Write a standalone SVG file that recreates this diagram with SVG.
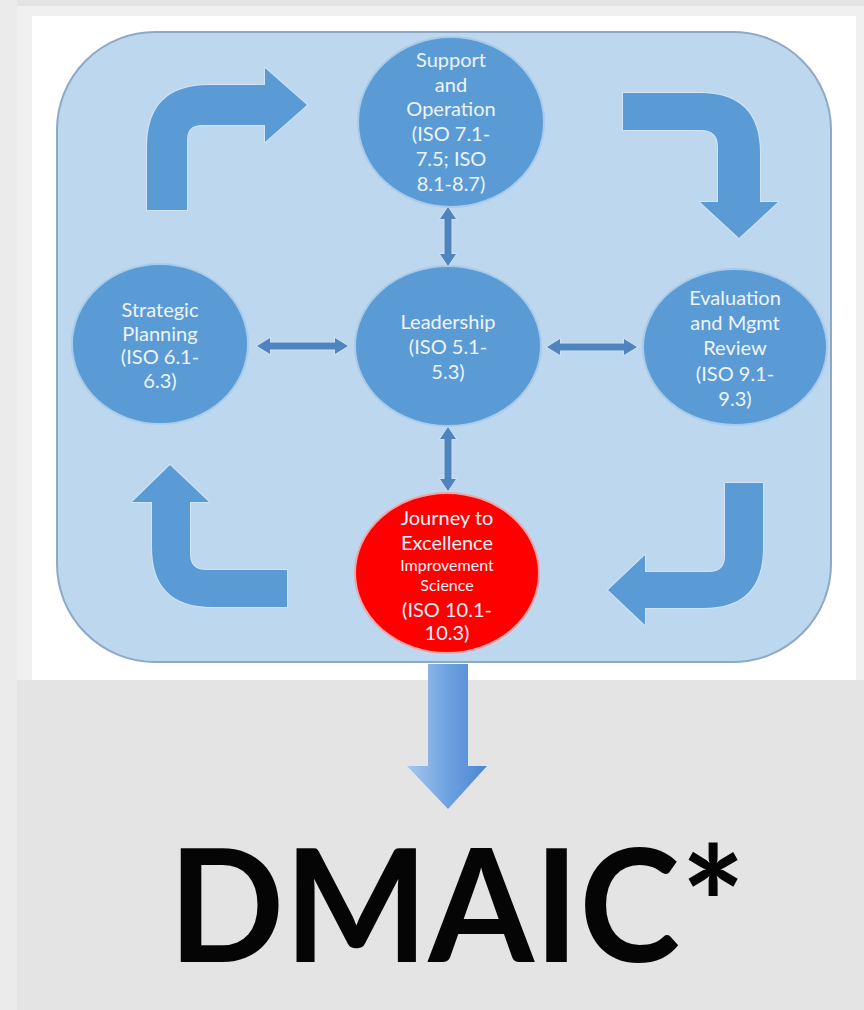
<svg xmlns="http://www.w3.org/2000/svg" width="864" height="1010" viewBox="0 0 864 1010">
  <defs>
    <style>
      .node { fill: #5b9bd5; stroke: #a8cbea; stroke-width: 2; }
      .node-red { fill: #ff0000; stroke: #f3a3a8; stroke-width: 2; }
      .label { font-family: Lato, "Open Sans", sans-serif; font-size: 20px; fill: #eef4fb; text-anchor: middle; }
      .label-sm { font-size: 16px; }
      .cycle { fill: #5b9bd5; stroke: #d2e5f6; stroke-width: 2; paint-order: stroke; stroke-linejoin: round; }
      .link { fill: #4f84be; stroke: #d2e5f6; stroke-width: 1.5; paint-order: stroke; }
      .title { font-family: Lato, "Open Sans", sans-serif; font-weight: 700; font-size: 158px; fill: #050505; text-anchor: middle; }
    </style>
    <linearGradient id="downGrad" x1="0" y1="0" x2="1" y2="0">
      <stop offset="0" stop-color="#a6c8ee"/>
      <stop offset="0.5" stop-color="#6ea2e0"/>
      <stop offset="1" stop-color="#4b86d1"/>
    </linearGradient>
  </defs>

  <!-- page backgrounds -->
  <rect x="0" y="0" width="864" height="1010" fill="#e4e4e4"/>
  <rect x="0" y="0" width="17" height="1010" fill="#ebebeb"/>
  <rect x="17" y="6" width="847" height="674" fill="#f0f0f0"/>
  <rect x="32" y="16" width="824" height="664" fill="#ffffff"/>

  <!-- framework container -->
  <rect id="frame" x="57" y="32" width="774" height="630" rx="98" ry="98" fill="#bdd7ee" stroke="#8ea9c6" stroke-width="2"/>

  <!-- cycle arrows between the outer stages -->
  <g id="cycle-arrows">
    <path class="cycle" d="M147,210 L147,147 Q147,85 209,85 L265,85 L265,68 L307,105 L265,142 L265,125 L202,125 Q187,125 187,140 L187,210 Z"/>
    <path class="cycle" d="M623,93 L700,93 Q760,93 760,153 L760,202 L778,202 L739,238 L700,202 L718,202 L718,147 Q718,130 701,130 L623,130 Z"/>
    <path class="cycle" d="M725,483 L763,483 L763,548 Q763,608 703,608 L645,608 L645,625 L608,590 L645,555 L645,572 L709,572 Q725,572 725,556 Z"/>
    <path class="cycle" d="M287,570 L206,570 Q190,570 190,554 L190,502 L209,502 L170,465 L132,502 L152,502 L152,547 Q152,607 212,607 L287,607 Z"/>
  </g>

  <!-- connectors to Leadership -->
  <g id="connectors">
    <path class="link" d="M448,207 L456,219 L451.5,219 L451.5,254 L456,254 L448,266 L440,254 L444.5,254 L444.5,219 L440,219 Z"/>
    <path class="link" d="M448,427 L456,439 L451.5,439 L451.5,479 L456,479 L448,491 L440,479 L444.5,479 L444.5,439 L440,439 Z"/>
    <path class="link" d="M257,346 L270,338 L270,342.5 L335,342.5 L335,338 L348,346 L335,354 L335,349.5 L270,349.5 L270,354 Z"/>
    <path class="link" d="M547,347 L560,339 L560,343.5 L624,343.5 L624,339 L637,347 L624,355 L624,350.5 L560,350.5 L560,355 Z"/>
    <path d="M428,664 L468,664 L468,766 L487,766 L448,809 L407,766 L428,766 Z" fill="url(#downGrad)"/>
  </g>

  <g id="support">
    <ellipse class="node" cx="451" cy="122" rx="93" ry="85"/>
    <text class="label" x="451" y="67">Support</text>
    <text class="label" x="451" y="92">and</text>
    <text class="label" x="451" y="116">Operation</text>
    <text class="label" x="451" y="141">(ISO 7.1-</text>
    <text class="label" x="451" y="166">7.5; ISO</text>
    <text class="label" x="451" y="191">8.1-8.7)</text>
  </g>

  <g id="strategic">
    <ellipse class="node" cx="160" cy="344" rx="88" ry="80"/>
    <text class="label" x="160" y="317">Strategic</text>
    <text class="label" x="160" y="341">Planning</text>
    <text class="label" x="160" y="364">(ISO 6.1-</text>
    <text class="label" x="160" y="388">6.3)</text>
  </g>

  <g id="leadership">
    <ellipse class="node" cx="448" cy="346" rx="93" ry="80"/>
    <text class="label" x="448" y="329">Leadership</text>
    <text class="label" x="448" y="354">(ISO 5.1-</text>
    <text class="label" x="448" y="379">5.3)</text>
  </g>

  <g id="evaluation">
    <ellipse class="node" cx="735" cy="347" rx="92" ry="78"/>
    <text class="label" x="735" y="305">Evaluation</text>
    <text class="label" x="735" y="330">and Mgmt</text>
    <text class="label" x="735" y="355">Review</text>
    <text class="label" x="735" y="381">(ISO 9.1-</text>
    <text class="label" x="735" y="406">9.3)</text>
  </g>

  <g id="journey">
    <ellipse class="node-red" cx="447" cy="573" rx="92" ry="80"/>
    <text class="label" x="447" y="525">Journey to</text>
    <text class="label" x="447" y="550">Excellence</text>
    <text class="label label-sm" x="447" y="571">Improvement</text>
    <text class="label label-sm" x="447" y="591">Science</text>
    <text class="label" x="447" y="617">(ISO 10.1-</text>
    <text class="label" x="447" y="640">10.3)</text>
  </g>

  <g id="dmaic">
    <text class="title" x="457" y="962" textLength="577" lengthAdjust="spacingAndGlyphs">DMAIC*</text>
  </g>
</svg>
